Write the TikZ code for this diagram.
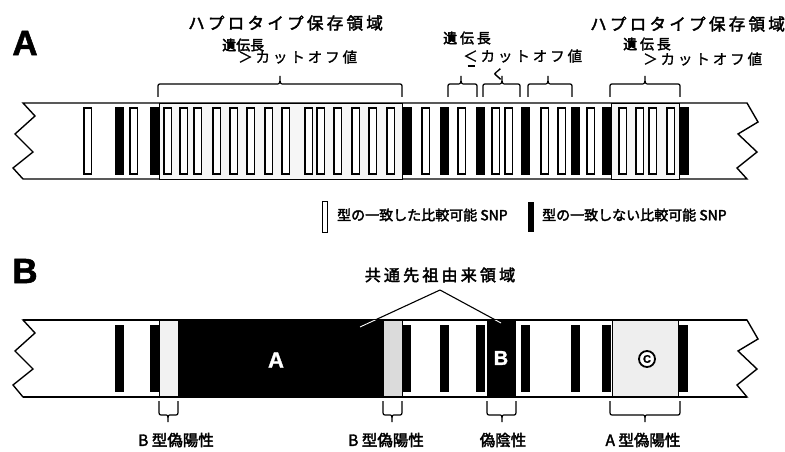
\documentclass[tikz,border=0pt]{standalone}
\usepackage{fontspec}
\newfontfamily\jp[FakeBold=2.4]{Noto Sans CJK JP}
\newfontfamily\jps[FakeBold=2.4,LetterSpace=20]{Noto Sans CJK JP}
\newfontfamily\jpsl[FakeBold=1.2,LetterSpace=20]{Noto Sans CJK JP}
\newfontfamily\heavy[FakeBold=1.5]{Liberation Sans}
\newcommand\fsz[1]{\fontsize{#1}{#1}\selectfont}
\tikzset{
  strip/.style={draw=black,line width=1.4pt,fill=white,line join=miter},
  wbar/.style={draw=black,line width=1.1pt,fill=white},
  bbar/.style={fill=black},
  hbox/.style={draw=black,line width=0.8pt,fill=gray!7},
  br/.style={draw=black,line width=1.2pt},
  lab/.style={inner sep=0pt,anchor=west},
}
\newcommand\topbr[3]{\draw[br] (#1,97) -- (#1,88) .. controls (#1,84) .. (#1+4,84) -- (#3-4,84) .. controls (#3,84) .. (#3,76) .. controls (#3,84) .. (#3+4,84) -- (#2-4,84) .. controls (#2,84) .. (#2,88) -- (#2,97);}
\newcommand\botbr[3]{\draw[br] (#1,401) -- (#1,410) .. controls (#1,415) .. (#1+4,415) -- (#3-3,415) .. controls (#3,415) .. (#3,422) .. controls (#3,415) .. (#3+3,415) -- (#2-4,415) .. controls (#2,415) .. (#2,410) -- (#2,401);}
\newcommand\wb[1]{\draw[wbar] (#1,108) rectangle (#1+7.5,174);}
\newcommand\bbA[1]{\fill[bbar] (#1,107) rectangle (#1+8.5,175);}
\newcommand\bbB[1]{\fill[bbar] (#1,325) rectangle (#1+8.5,392);}
\begin{document}
\begin{tikzpicture}[x=1pt,y=-1pt]
\useasboundingbox (0,0) rectangle (785,452);
\fill[white] (0,0) rectangle (785,452);
% ---------------- Panel A ----------------
\node[inner sep=0pt] (la) at (25,43) {\heavy\bfseries\fsz{35}A};
\draw[strip] (23,103) -- (747,103) -- (758,122) -- (738,134) -- (757,152) -- (737,168) -- (747,179)
  -- (23,179) -- (13,168) -- (33,152) -- (15,134) -- (35,116) -- cycle;
\draw[hbox] (159,103) rectangle (402,179);
\draw[hbox] (611,103) rectangle (679,179);
\foreach \x in {84,130,164,180,194,213,230,247,265,282,305,317,334,352,369,387,422,458,492,505,541,558,587,619,636,649,667} {\wb{\x}}
\foreach \x in {115,150,403,440,476,521,571,602,680} {\bbA{\x}}
% braces
\topbr{158}{402}{280}
\topbr{448}{477}{461}
\topbr{483}{520}{502}
\topbr{528}{572}{548}
\topbr{610}{680}{645}
% texts
\node[lab] (t1) at (188,23) {\jps\fsz{16.5}ハプロタイプ保存領域};
\node[lab] (g1) at (222,45) {\jp\fsz{14}遺伝長};
\node[lab] (c1) at (238,57) {\jpsl\fsz{14.5}＞カットオフ値};
\node[lab] (g2) at (443,38) {\jps\fsz{14}遺伝長};
\node[lab] (c2) at (463,56) {\jpsl\fsz{14.5}＜カットオフ値};
\draw[line width=2.2pt] (467.5,66) -- (475,66);
\node[inner sep=0pt] (k2) at (498,74) {\jpsl\fsz{13}く};
\node[lab] (t2) at (590,24) {\jps\fsz{16.5}ハプロタイプ保存領域};
\node[lab] (g3) at (623,44) {\jps\fsz{14}遺伝長};
\node[lab] (c3) at (643,59) {\jpsl\fsz{14.5}＞カットオフ値};
% legend
\draw[line width=0.9pt,fill=white] (322,201) rectangle (327,232);
\node[lab] (lg1) at (337,215) {\jp\fsz{14}型の一致した比較可能 SNP};
\fill[black] (528,202) rectangle (533.5,232);
\node[lab] (lg2) at (542,215) {\jp\fsz{14}型の一致しない比較可能 SNP};
% ---------------- Panel B ----------------
\node[inner sep=0pt] (lb) at (25,271) {\heavy\bfseries\fsz{35}B};
\draw[strip] (23,320) -- (747,320) -- (758,339) -- (738,351) -- (757,369) -- (737,385) -- (747,397)
  -- (23,397) -- (13,385) -- (33,369) -- (15,351) -- (35,333) -- cycle;
\draw[draw=black,line width=0.6pt,fill=gray!10] (159,320) rectangle (178,397);
\fill[black] (178,320) rectangle (383,397);
\draw[draw=black,line width=0.6pt,fill=gray!28] (383,320) rectangle (402,397);
\fill[black] (487,320) rectangle (516,397);
\draw[draw=black,line width=0.6pt,fill=gray!13] (612,320) rectangle (678,397);
\draw[strip,fill=none] (23,320) -- (747,320) (747,397) -- (23,397);
\foreach \x in {115,150,402,440,476,521,571,602,679} {\bbB{\x}}
\node[inner sep=0pt] (ra) at (276,360) {\heavy\bfseries\fsz{22}\textcolor{white}{A}};
\node[inner sep=0pt] (rb) at (501,358) {\heavy\bfseries\fsz{20}\textcolor{white}{B}};
\node[circle,draw=black,line width=1.8pt,fill=white,inner sep=0pt,minimum size=16pt] (rc) at (647,359) {\heavy\bfseries\fsz{11}C};
% common ancestor label
\node[inner sep=0pt] (ca) at (440,275) {\jps\fsz{16}共通先祖由来領域};
\coordinate (apex) at (440,290);
\coordinate (endl) at (360,327);
\coordinate (endr) at (501,323);
\draw[line width=1.1pt] (apex) -- (endl);
\draw[line width=1.1pt] (apex) -- (endr);
\begin{scope}
  \clip (178,320) rectangle (383,397) (487,320) rectangle (516,397);
  \draw[white,line width=0.9pt] (apex) -- (endl);
  \draw[white,line width=0.9pt] (apex) -- (endr);
\end{scope}
% bottom braces
\botbr{159}{178}{168}
\botbr{383}{402}{392}
\botbr{487}{516}{502}
\botbr{610}{680}{645}
\node[inner sep=0pt] (b1) at (176,440) {\jp\fsz{15.5}B 型偽陽性};
\node[inner sep=0pt] (b2) at (386,440) {\jp\fsz{15.5}B 型偽陽性};
\node[inner sep=0pt] (b3) at (503,440) {\jp\fsz{15.5}偽陰性};
\node[inner sep=0pt] (b4) at (643,440) {\jp\fsz{15.5}A 型偽陽性};
\end{tikzpicture}
\end{document}
